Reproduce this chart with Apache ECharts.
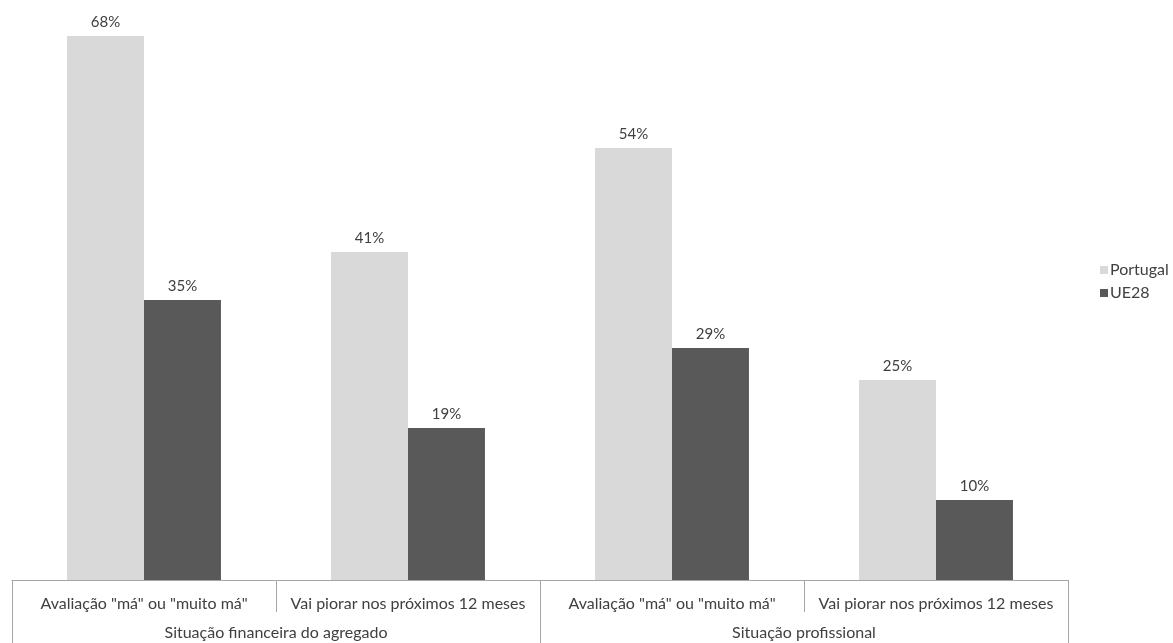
<!DOCTYPE html>
<html>
<head>
<meta charset="utf-8">
<script src="https://cdn.jsdelivr.net/npm/echarts@6/dist/echarts.min.js"></script>
<style>
  html, body { margin: 0; padding: 0; background: #fff; }
  #chart { width: 1173px; height: 643px; }
</style>
</head>
<body>
<div id="chart"></div>
<script>
const categories = [
  'Avaliação "má" ou "muito má"',
  'Vai piorar nos próximos 12 meses',
  'Avaliação "má" ou "muito má"',
  'Vai piorar nos próximos 12 meses'
];
const groups = ['Situação financeira do agregado', 'Situação profissional'];
const portugal = [68, 41, 54, 25];
const ue28 = [35, 19, 29, 10];

const font = 'Lato, "Open Sans", sans-serif';
const textColor = '#404040';
const lineColor = '#a6a6a6';

const chart = echarts.init(document.getElementById('chart'));
chart.setOption({
  animation: false,
  textStyle: { fontFamily: font },
  grid: { left: 12, right: 105, top: 20, bottom: 63, containLabel: false },
  legend: {
    orient: 'vertical',
    left: 1095,
    top: 257,
    itemWidth: 8,
    itemHeight: 8,
    itemGap: 7,
    icon: 'rect',
    textStyle: { fontFamily: font, fontSize: 16, lineHeight: 16, color: textColor, padding: [0, 0, 0, -3] },
    data: ['Portugal', 'UE28']
  },
  xAxis: [
    {
      type: 'category',
      data: categories,
      position: 'bottom',
      axisLine: { show: true, lineStyle: { color: lineColor, width: 1 } },
      axisTick: { show: true, length: 32, interval: 0, lineStyle: { color: lineColor } },
      axisLabel: { interval: 0, margin: 16, fontSize: 16, color: textColor, fontFamily: font }
    },
    {
      type: 'category',
      data: groups,
      position: 'bottom',
      axisLine: { show: false },
      axisTick: { show: true, length: 63, interval: 0, lineStyle: { color: lineColor } },
      axisLabel: { interval: 0, margin: 45, fontSize: 16, color: textColor, fontFamily: font }
    }
  ],
  yAxis: { type: 'value', min: 0, max: 70, show: false },
  series: [
    {
      name: 'Portugal',
      type: 'bar',
      xAxisIndex: 0,
      data: portugal,
      barGap: '0%',
      barCategoryGap: '41.7%',
      itemStyle: { color: '#d9d9d9' },
      label: { show: true, position: 'top', distance: 6, formatter: '{c}%', fontSize: 15, color: textColor, fontFamily: font }
    },
    {
      name: 'UE28',
      type: 'bar',
      xAxisIndex: 0,
      data: ue28,
      barGap: '0%',
      barCategoryGap: '41.7%',
      itemStyle: { color: '#595959' },
      label: { show: true, position: 'top', distance: 6, formatter: '{c}%', fontSize: 15, color: textColor, fontFamily: font }
    }
  ]
});
</script>
</body>
</html>
